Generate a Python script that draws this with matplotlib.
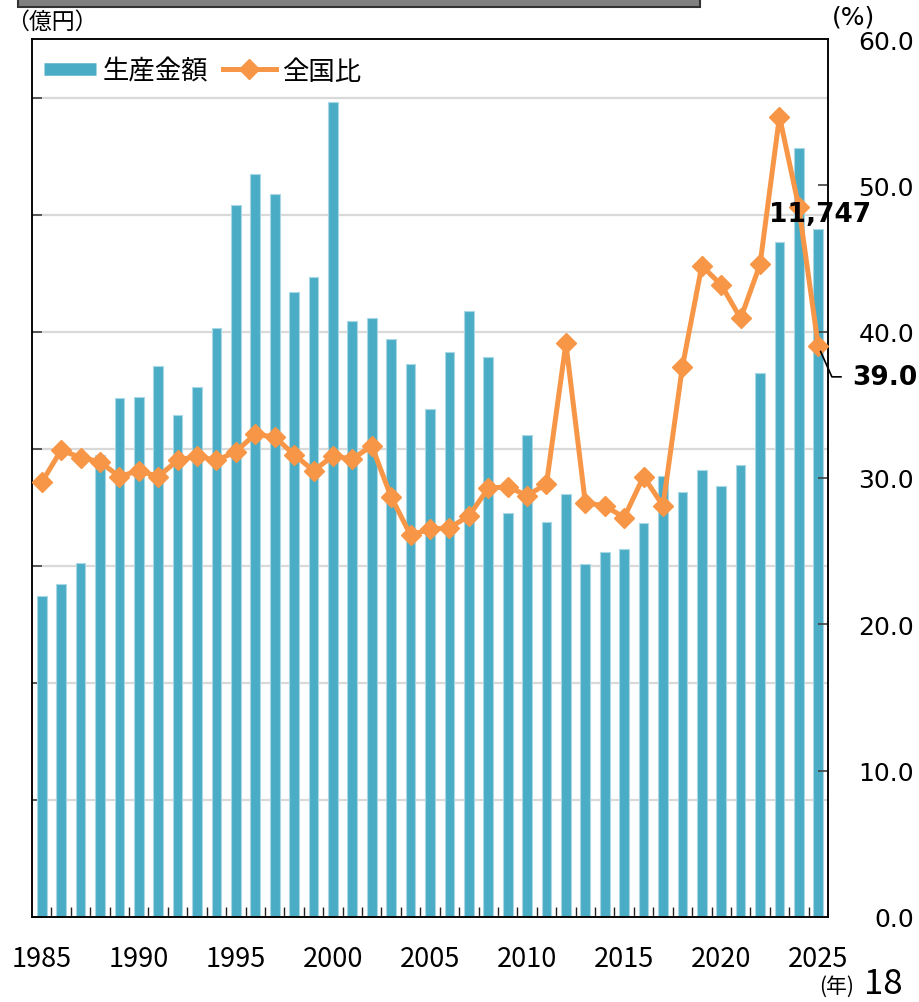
import numpy as np
import matplotlib
matplotlib.use('Agg')
import matplotlib.pyplot as plt
from matplotlib.lines import Line2D
from matplotlib.patches import Rectangle

plt.rcParams['font.family'] = ['DejaVu Sans', 'Noto Sans CJK JP']

# ---------------------------------------------------------------------------
# Data
# ---------------------------------------------------------------------------
years = list(range(1985, 2026))

# 生産金額 (億円)
amounts = [5490, 5690, 6050, 7900, 8870, 8890, 9420, 8580, 9060, 10070,
           12170, 12700, 12360, 10670, 10930, 13930, 10190, 10240, 9870, 9440,
           8680, 9650, 10350, 9560, 6900, 8240, 6750, 7230, 6030, 6230,
           6280, 6730, 7530, 7260, 7630, 7360, 7730, 9300, 11530, 13130,
           11747]

# 全国比 (%)
shares = [29.7, 31.9, 31.4, 31.1, 30.1, 30.5, 30.1, 31.2, 31.5, 31.2,
          31.8, 33.0, 32.8, 31.6, 30.5, 31.5, 31.3, 32.2, 28.7, 26.1,
          26.5, 26.6, 27.4, 29.3, 29.4, 28.8, 29.6, 39.2, 28.3, 28.1,
          27.3, 30.1, 28.1, 37.6, 44.5, 43.2, 40.9, 44.6, 54.7, 48.5,
          39.0]

left_ticks = list(range(0, 15000, 2000))
right_ticks = [0, 10, 20, 30, 40, 50, 60]
right_labels = ['0.0', '10.0', '20.0', '30.0', '40.0', '50.0', '60.0']
year_ticks = list(range(1985, 2026, 5))

BLUE = '#4bacc6'
ORANGE = '#f79646'
CJK = 'Noto Sans CJK JP'

# ---------------------------------------------------------------------------
# Plot
# ---------------------------------------------------------------------------
fig = plt.figure(figsize=(9.2, 10.03), dpi=100)
ax = fig.add_axes([32 / 920, 1 - 918 / 1003, 796 / 920, 878 / 1003])
ax2 = ax.twinx()

ax.bar(years, amounts, width=0.5, color=BLUE, edgecolor='#a8d8e6',
       linewidth=0.8, zorder=2)
ax.set_ylim(0, 15000)
ax.set_xlim(1984.5, 2025.5)
ax.set_yticks(left_ticks)
ax.set_yticklabels([])
ax.yaxis.grid(True, color='#d9d9d9', linewidth=1.6, zorder=0)
ax.set_axisbelow(True)
ax.tick_params(axis='y', direction='in', length=7, width=1.2,
               color='#404040', left=True, right=False)

ax.set_xticks(year_ticks)
ax.set_xticklabels([str(y) for y in year_ticks], family=CJK, fontsize=19.5)
ax.set_xticks(np.arange(1985.5, 2025, 1), minor=True)
ax.tick_params(axis='x', which='major', length=0, pad=20)
ax.tick_params(axis='x', which='minor', direction='in', length=7,
               width=1.0, color='#222222')

ax2.plot(years, shares, color=ORANGE, lw=3.6, marker='D', ms=10.5,
         mec=ORANGE, mfc=ORANGE, zorder=3)
ax2.set_ylim(0, 60)
ax2.set_yticks(right_ticks)
ax2.set_yticklabels(right_labels, fontsize=18)
ax2.tick_params(axis='y', direction='in', length=7, width=1.2,
                color='#404040', pad=62)
for lab in ax2.get_yticklabels():
    lab.set_horizontalalignment('right')

for a in (ax, ax2):
    for sp in a.spines.values():
        sp.set_color('black')
        sp.set_linewidth(1.1)

# value labels (on ax2 so they sit above the line)
ax2.annotate(f'{amounts[-1]:,}', xy=(years[-1], amounts[-1]),
             xycoords=ax.transData, xytext=(1, 2),
             textcoords='offset points', ha='center', va='bottom',
             fontsize=19, fontweight='bold', annotation_clip=False,
             zorder=5)
ax2.annotate(f'{shares[-1]:.1f}', xy=(years[-1], shares[-1]),
             xytext=(24.5, -22), textcoords='offset points', ha='left',
             va='center', fontsize=19, fontweight='bold',
             annotation_clip=False, zorder=5,
             arrowprops=dict(arrowstyle='-', color='black', lw=1.2,
                             shrinkA=6, shrinkB=4, relpos=(0, 0.5),
                             connectionstyle='angle,angleA=0,angleB=-66'))

# legend
handles = [Line2D([], [], color=BLUE, lw=9, solid_capstyle='butt'),
           Line2D([], [], color=ORANGE, lw=3.6, marker='D', ms=10.5)]
ax.legend(handles, ['生産金額', '全国比'], loc='upper left', ncol=2,
          frameon=False, prop={'family': CJK, 'size': 19},
          bbox_to_anchor=(1 / 796, 1 - 8 / 878), borderaxespad=0,
          handlelength=2.0, handletextpad=0.25, columnspacing=0.55)

# axis unit labels
fig.text(6 / 920, 1 - 22 / 1003, '（億円）', family=CJK, fontsize=16.5,
         ha='left', va='center')
fig.text(832 / 920, 1 - 18 / 1003, '(%)', fontsize=18, ha='left',
         va='center')
fig.text(819 / 920, 1 - 987 / 1003, '(年)', family=CJK, fontsize=15,
         ha='left', va='center')
fig.text(864 / 920, 1 / 1003, '18', family=CJK, fontsize=25, ha='left',
         va='bottom')

# decorative bar at the top
fig.patches.append(Rectangle((18 / 920, 1 - 8 / 1003), 682 / 920, 12 / 1003,
                             transform=fig.transFigure, facecolor='#808080',
                             edgecolor='#333333', lw=1.5))

fig.savefig('out.png', dpi=100)
